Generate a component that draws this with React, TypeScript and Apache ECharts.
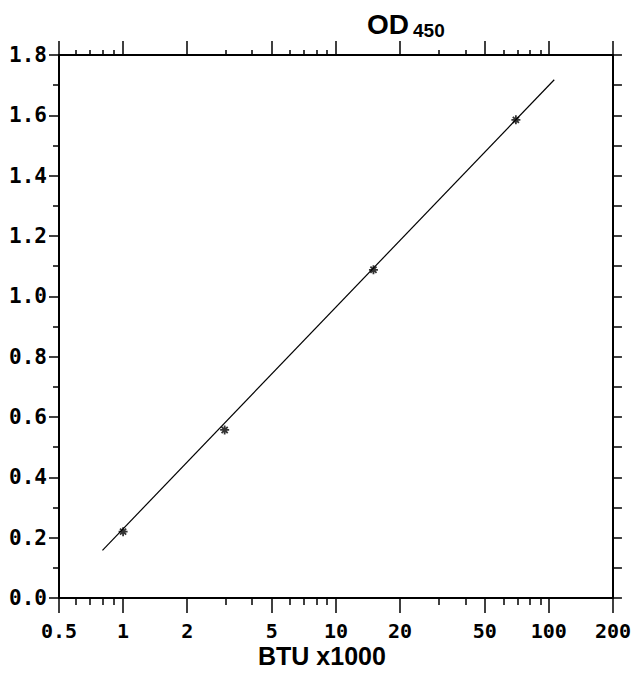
import React, { useEffect, useRef } from "react";
import * as echarts from "echarts";

const xTickLabels = ["0.5", "1", "2", "5", "10", "20", "50", "100", "200"];
const xMajorTicks = [0.5, 1, 2, 5, 10, 20, 50, 100, 200];
const xMinorTicks = [0.6, 0.7, 0.8, 0.9, 3, 4, 6, 7, 8, 9, 30, 40, 60, 70, 80, 90];
const pointX = [1, 3, 15, 70];
const pointY = [0.22, 0.557, 1.088, 1.585];
const lineX = [0.8, 106];
const lineY = [0.158, 1.718];
const yMin = 0;
const yMax = 1.8;
const xMin = 0.5;
const xMax = 200;

const lg = (v: number) => Math.log10(v);

export default function App() {
  const ref = useRef<HTMLDivElement>(null);
  useEffect(() => {
    if (!ref.current) return;
    const chart = echarts.init(ref.current, undefined, { renderer: "svg" });
    const monoFont = "DejaVu Sans Mono";
    const gridRect = { left: 59, right: 19, top: 55, bottom: 76 };
    const black = "#000";
    const labelFor = (v: number) => {
      let best = 0;
      let d = Infinity;
      xMajorTicks.forEach((t, i) => {
        const dd = Math.abs(lg(t) - v);
        if (dd < d) {
          d = dd;
          best = i;
        }
      });
      return xTickLabels[best];
    };
    const majorVals = xMajorTicks.map(lg);
    const minorVals = xMinorTicks.map(lg);
    const baseX = {
      type: "value" as const,
      min: lg(xMin),
      max: lg(xMax),
      splitLine: { show: false },
    };
    chart.setOption({
      animation: false,
      backgroundColor: "#fff",
      grid: [
        { ...gridRect, containLabel: false },
        { ...gridRect, containLabel: false },
      ],
      xAxis: [
        {
          ...baseX,
          gridIndex: 0,
          position: "bottom",
          axisLine: { show: true, onZero: false, lineStyle: { color: black, width: 2 } },
          axisTick: {
            show: true,
            inside: false,
            length: 15,
            customValues: majorVals,
            lineStyle: { color: black, width: 1.5 },
          },
          axisLabel: {
            show: true,
            customValues: majorVals,
            formatter: (v: number) => labelFor(v),
            margin: 23,
            color: black,
            fontFamily: monoFont,
            fontWeight: "bold",
            fontSize: 20,
            showMinLabel: true,
            showMaxLabel: true,
          },
        },
        {
          ...baseX,
          gridIndex: 0,
          position: "top",
          axisLine: { show: true, onZero: false, lineStyle: { color: black, width: 2 } },
          axisTick: {
            show: true,
            inside: false,
            length: 14,
            customValues: majorVals,
            lineStyle: { color: black, width: 1.5 },
          },
          axisLabel: { show: false },
        },
        {
          ...baseX,
          gridIndex: 1,
          position: "bottom",
          axisLine: { show: false, onZero: false },
          axisTick: {
            show: true,
            inside: false,
            length: 7,
            customValues: minorVals,
            lineStyle: { color: black, width: 1.5 },
          },
          axisLabel: { show: false },
        },
        {
          ...baseX,
          gridIndex: 1,
          position: "top",
          axisLine: { show: false, onZero: false },
          axisTick: {
            show: true,
            inside: false,
            length: 5,
            customValues: minorVals,
            lineStyle: { color: black, width: 1.5 },
          },
          axisLabel: { show: false },
        },
      ],
      yAxis: [
        {
          type: "value",
          gridIndex: 0,
          position: "left",
          min: yMin,
          max: yMax,
          interval: 0.2,
          splitLine: { show: false },
          axisLine: { show: true, onZero: false, lineStyle: { color: black, width: 2 } },
          axisTick: { show: true, inside: false, length: 10, lineStyle: { color: black, width: 1.5 } },
          minorTick: { show: true, splitNumber: 2, length: 6, lineStyle: { color: black, width: 1.5 } },
          axisLabel: {
            show: true,
            margin: 12,
            color: black,
            fontFamily: monoFont,
            fontWeight: "bold",
            fontSize: 21,
            formatter: (v: number) => v.toFixed(1),
          },
        },
        {
          type: "value",
          gridIndex: 0,
          position: "right",
          min: yMin,
          max: yMax,
          interval: 0.1,
          splitLine: { show: false },
          axisLine: { show: true, onZero: false, lineStyle: { color: black, width: 2 } },
          axisTick: { show: true, inside: false, length: 9, lineStyle: { color: black, width: 1.5 } },
          axisLabel: { show: false },
        },
        {
          type: "value",
          gridIndex: 1,
          min: yMin,
          max: yMax,
          show: false,
        },
      ],
      series: [
        {
          type: "line",
          xAxisIndex: 0,
          yAxisIndex: 0,
          data: lineX.map((x, i) => [lg(x), lineY[i]]),
          showSymbol: false,
          symbol: "none",
          lineStyle: { color: black, width: 1.2 },
          silent: true,
        },
        {
          type: "scatter",
          xAxisIndex: 0,
          yAxisIndex: 0,
          data: pointX.map((x, i) => [lg(x), pointY[i]]),
          symbol: "path://M5,0L5,10M0,5L10,5M1.6,1.6L8.4,8.4M1.6,8.4L8.4,1.6",
          symbolSize: 9,
          itemStyle: { color: "none", borderColor: black, borderWidth: 1.8 },
          silent: true,
        },
      ],
      graphic: [
        {
          type: "text",
          left: 367,
          top: 10,
          style: {
            text: "OD",
            fontFamily: "Liberation Sans",
            fontWeight: "bold",
            fontSize: 28,
            fill: black,
          },
        },
        {
          type: "text",
          left: 413,
          top: 21,
          style: {
            text: "450",
            fontFamily: "Liberation Sans",
            fontWeight: "bold",
            fontSize: 19,
            fill: black,
          },
        },
        {
          type: "text",
          left: 258,
          top: 643,
          style: {
            text: "BTU x1000",
            fontFamily: "Liberation Sans",
            fontWeight: "bold",
            fontSize: 25,
            fill: black,
          },
        },
      ],
    });
    return () => chart.dispose();
  }, []);
  return (
    <div
      ref={ref}
      style={{ position: "absolute", left: 0, top: 0, width: 634, height: 674 }}
    />
  );
}
